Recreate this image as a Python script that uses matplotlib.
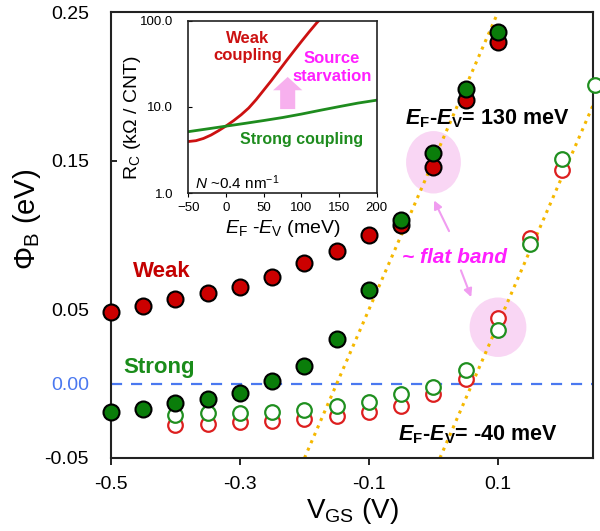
import matplotlib
matplotlib.use('Agg')
from matplotlib import pyplot as plt
from matplotlib.patches import Ellipse, FancyArrow

plt.rcParams['font.family'] = ['Liberation Sans', 'DejaVu Sans']
plt.rcParams['mathtext.fontset'] = 'custom'
plt.rcParams['mathtext.rm'] = 'Liberation Sans'
plt.rcParams['mathtext.it'] = 'Liberation Sans:italic'
plt.rcParams['mathtext.bf'] = 'Liberation Sans:bold'
plt.rcParams['mathtext.bfit'] = 'Liberation Sans:italic:bold'

# main panel data (V_GS in V, barrier in eV)
vgs_filled = [-0.5, -0.45, -0.4, -0.35, -0.3, -0.25, -0.2, -0.15, -0.1, -0.05, 0.0, 0.05, 0.1]
weak_filled = [0.048, 0.052, 0.057, 0.061, 0.065, 0.072, 0.081, 0.089, 0.100, 0.107, 0.146, 0.191, 0.230]
strong_filled = [-0.019, -0.017, -0.013, -0.010, -0.006, 0.002, 0.012, 0.030, 0.063, 0.110, 0.155, 0.198, 0.237]

vgs_weak_open = [-0.4, -0.35, -0.3, -0.25, -0.2, -0.15, -0.1, -0.05, 0.0, 0.05, 0.1, 0.15, 0.2]
weak_open = [-0.028, -0.027, -0.026, -0.025, -0.024, -0.022, -0.019, -0.015, -0.007, 0.003, 0.044, 0.098, 0.144]
vgs_strong_open = [-0.4, -0.35, -0.3, -0.25, -0.2, -0.15, -0.1, -0.05, 0.0, 0.05, 0.1, 0.15, 0.2, 0.25]
strong_open = [-0.021, -0.020, -0.020, -0.019, -0.018, -0.015, -0.012, -0.007, -0.002, 0.009, 0.036, 0.094, 0.151, 0.201]

# flat band guide lines
fb130_x = [-0.2, 0.1]
fb130_y = [-0.05, 0.25]
fbm40_x = [0.01, 0.25]
fbm40_y = [-0.05, 0.19]

# inset data (E_F - E_V in meV, R_C in kOhm/CNT)
weak_e = [-50, -40, -30, -20, -10, 0, 10, 20, 30, 40, 50, 60, 70, 80, 90, 100, 110, 120, 126]
weak_rc = [3.98, 4.07, 4.32, 4.73, 5.31, 6.03, 6.95, 8.13, 9.73, 12.2, 15.7, 20.2, 26.3,
           34.3, 44.5, 57.5, 73.8, 93.8, 107]
strong_e = [-50, -25, 0, 25, 50, 75, 100, 125, 150, 175, 200]
strong_rc = [5.18, 5.57, 6.0, 6.46, 6.97, 7.55, 8.28, 9.16, 10.1, 11.1, 12.0]

xticks = [-0.5, -0.3, -0.1, 0.1]
yticks = [-0.05, 0.0, 0.05, 0.15, 0.25]

RED = '#cc0000'
GREEN = '#0a7d0a'
MAGENTA = '#ff1fff'
GOLD = '#f5b800'

fig = plt.figure(figsize=(6, 5.31), dpi=100)
ax = fig.add_axes([0.185, 0.1375, 0.803, 0.8395])

ax.add_patch(Ellipse((0.0, 0.149), 0.085, 0.042, color='#f9d6f4', zorder=1, lw=0))
ax.add_patch(Ellipse((0.1, 0.038), 0.088, 0.040, color='#f9d6f4', zorder=1, lw=0))

ax.axhline(0, color='#4a78f0', ls=(0, (5, 4)), lw=1.6, zorder=2)
ax.plot(fb130_x, fb130_y, ls=':', color=GOLD, lw=2.2, zorder=2)
ax.plot(fbm40_x, fbm40_y, ls=':', color=GOLD, lw=2.2, zorder=2)

ax.plot(vgs_weak_open, weak_open, 'o', ms=10.5, mfc='white', mec='#dd1f1f', mew=1.6,
        clip_on=False, zorder=3)
ax.plot(vgs_strong_open, strong_open, 'o', ms=10.5, mfc='white', mec='#1f8f1f', mew=1.6,
        clip_on=False, zorder=4)
ax.plot(vgs_filled, weak_filled, 'o', ms=11.5, mfc=RED, mec='black', mew=1.5,
        clip_on=False, zorder=5)
ax.plot(vgs_filled, strong_filled, 'o', ms=11.5, mfc=GREEN, mec='black', mew=1.5,
        clip_on=False, zorder=6)

ax.set_xlim(-0.5, 0.247)
ax.set_ylim(-0.05, 0.25)
ax.set_xticks(xticks)
ax.set_xticklabels(['-0.5', '-0.3', '-0.1', '0.1'])
ax.set_yticks(yticks)
ax.set_yticklabels(['-0.05', '0.00', '0.05', '0.15', '0.25'])
ax.get_yticklabels()[1].set_color('#4a78f0')
ax.tick_params(axis='x', direction='out', length=5, width=1.2, labelsize=14, pad=8)
ax.tick_params(axis='y', direction='in', length=4, width=1.2, labelsize=14, pad=16)
for s in ax.spines.values():
    s.set_linewidth(1.5)
    s.set_color('#222222')

ax.set_xlabel('V$_\\mathrm{GS}$ (V)', fontsize=20, labelpad=2)
ax.set_ylabel('Φ$_\\mathrm{B}$ (eV)', fontsize=21)
ax.yaxis.set_label_coords(-0.141, 0.535)

ax.text(-0.466, 0.0754, 'Weak', color='#c40000', fontsize=16, fontweight='bold', va='center')
ax.text(-0.481, 0.0108, 'Strong', color='#1a8c1a', fontsize=16, fontweight='bold', va='center')
ax.text(-0.044, 0.178, r'$\mathbfit{E}_\mathbf{F}$-$\mathbfit{E}_\mathbf{V}$= 130 meV',
        fontsize=15.5, fontweight='bold', va='center')
ax.text(-0.055, -0.034, r'$\mathbfit{E}_\mathbf{F}$-$\mathbfit{E}_\mathbf{V}$= -40 meV',
        fontsize=15.5, fontweight='bold', va='center')
ax.text(0.033, 0.085, '~ flat band', color=MAGENTA, fontsize=15, fontweight='bold',
        fontstyle='italic', ha='center', va='center', zorder=7)
ax.annotate('', xy=(-0.001, 0.125), xytext=(0.026, 0.101),
            arrowprops=dict(arrowstyle='-|>', color='#f09cf0', lw=1.5, mutation_scale=12))
ax.annotate('', xy=(0.060, 0.0565), xytext=(0.041, 0.078),
            arrowprops=dict(arrowstyle='-|>', color='#f09cf0', lw=1.5, mutation_scale=12))

# inset
ins = fig.add_axes([0.314, 0.636, 0.314, 0.325])
ins.plot(weak_e, weak_rc, color='#cc1111', lw=2)
ins.plot(strong_e, strong_rc, color='#1e8c1e', lw=2)
ins.set_yscale('log')
ins.set_xlim(-50, 200)
ins.set_ylim(1, 100)
ins.set_xticks([-50, 0, 50, 100, 150, 200])
ins.set_yticks([1, 10, 100])
ins.set_yticklabels(['1.0', '10.0', '100.0'])
ins.minorticks_off()
ins.tick_params(axis='x', direction='out', length=3, labelsize=9.5, pad=3)
ins.tick_params(axis='y', direction='in', length=3, labelsize=9.5, pad=11)
for s in ins.spines.values():
    s.set_linewidth(1.2)
    s.set_color('#222222')
ins.set_xlabel('$E_\\mathrm{F}$ -$E_\\mathrm{V}$ (meV)', fontsize=14, labelpad=3)
ins.set_ylabel('R$_\\mathrm{C}$ (kΩ / CNT)', fontsize=14)
ins.yaxis.set_label_coords(-0.24, 0.44)

ins.text(0.314, 0.848, 'Weak\ncoupling', transform=ins.transAxes, color='#cc1111',
         fontsize=12, fontweight='bold', ha='center', va='center', linespacing=1.2)
ins.text(0.761, 0.729, 'Source\nstarvation', transform=ins.transAxes, color=MAGENTA,
         fontsize=12, fontweight='bold', ha='center', va='center', linespacing=1.2)
ins.text(0.602, 0.309, 'Strong coupling', transform=ins.transAxes, color='#1e8c1e',
         fontsize=11.5, fontweight='bold', ha='center', va='center')
ins.text(0.036, 0.064, '$N$ ~0.4 nm$^{-1}$', transform=ins.transAxes, fontsize=11,
         ha='left', va='center')
ins.add_patch(FancyArrow(0.527, 0.488, 0, 0.186, width=0.08, head_width=0.155,
                         head_length=0.077, length_includes_head=True,
                         transform=ins.transAxes, color='#f7b0ee', lw=0))

fig.savefig('out.png', dpi=100)
